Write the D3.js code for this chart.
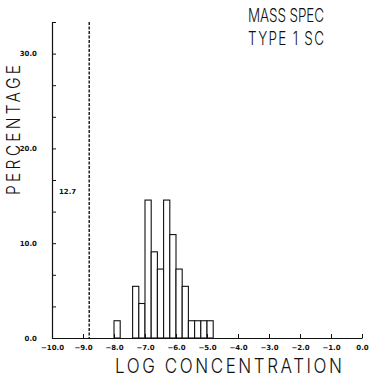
<!DOCTYPE html>
<html>
<head>
<meta charset="utf-8">
<script src="https://cdn.jsdelivr.net/npm/d3@7"></script>
<style>
  html, body { margin: 0; padding: 0; background: #fff; }
  svg { display: block; }
</style>
</head>
<body>
<svg id="chart" width="372" height="376"></svg>
<script>
// Histogram of log concentration, bins 0.2 wide (left edges)
const binStarts = [-8.0, -7.4, -7.2, -7.0, -6.8, -6.6, -6.4, -6.2, -6.0, -5.8, -5.6, -5.4, -5.2, -5.0];
const percents  = [1.82, 5.45, 3.64, 14.55, 9.09, 7.27, 14.55, 10.91, 7.27, 5.45, 1.82, 1.82, 1.82, 1.82];
const binWidth = 0.2;

// Fraction below detection limit, marked by the dashed line
const limitX = -8.8;
const limitLabel = "12.7";

const xTickValues = [-10, -9, -8, -7, -6, -5, -4, -3, -2, -1, 0];
const yLabelValues = [0, 10, 20, 30];
const titleLines = ["MASS SPEC", "TYPE 1 SC"];
const xTitle = "LOG CONCENTRATION";
const yTitle = "PERCENTAGE";

const svg = d3.select("#chart");
const x = d3.scaleLinear().domain([-10, 0]).range([52, 362]);
const y = d3.scaleLinear().domain([0, 100 / 3]).range([338, 22]);

const ink = "#111";
const tickFont = "DejaVu Sans";
const titleFont = "Inter, 'DejaVu Sans', sans-serif";

// Bars
svg.append("g").selectAll("rect").data(binStarts).join("rect")
  .attr("x", (d) => x(d))
  .attr("y", (d, i) => y(percents[i]))
  .attr("width", (d) => x(d + binWidth) - x(d))
  .attr("height", (d, i) => y(0) - y(percents[i]))
  .attr("fill", "#fff")
  .attr("stroke", ink)
  .attr("stroke-width", 1.1);

// X axis (ticks point inward)
const xAxis = d3.axisBottom(x).tickValues(xTickValues).tickSizeInner(-4).tickSizeOuter(0)
  .tickFormat(d3.format(".1f")).tickPadding(7);
const gx = svg.append("g").attr("transform", `translate(0,${y(0)})`).call(xAxis);
gx.select(".domain").attr("stroke", ink).attr("stroke-width", 1.2);
gx.selectAll(".tick line").attr("stroke", ink).attr("stroke-width", 1);
gx.selectAll(".tick text")
  .attr("font-family", tickFont).attr("font-weight", "bold")
  .attr("font-size", 7).attr("fill", ink)
  .text((d) => (d === 0 ? "0.0" : d3.format(".1f")(d)));

// Y axis, minor ticks every 10/3, labels at 10s
const yTicks = d3.range(0, 11).map((i) => (i * 10) / 3);
const yAxis = d3.axisLeft(y).tickValues(yTicks).tickSizeInner(-4).tickSizeOuter(0)
  .tickPadding(15)
  .tickFormat((d) => {
    const r = Math.round(d);
    return Math.abs(d - r) < 1e-6 && yLabelValues.includes(r) ? d3.format(".1f")(r) : "";
  });
const gy = svg.append("g").attr("transform", `translate(${x(-10)},0)`).call(yAxis);
gy.select(".domain").attr("stroke", ink).attr("stroke-width", 1.2);
gy.selectAll(".tick line").attr("stroke", ink).attr("stroke-width", 1);
gy.selectAll(".tick text")
  .attr("font-family", tickFont).attr("font-weight", "bold")
  .attr("font-size", 7).attr("fill", ink);

// Detection-limit dashed line and its label
svg.append("line")
  .attr("x1", x(limitX)).attr("x2", x(limitX))
  .attr("y1", y(100 / 3)).attr("y2", y(0))
  .attr("stroke", ink).attr("stroke-width", 1.4)
  .attr("stroke-dasharray", "3,1.5");
svg.append("text")
  .attr("x", x(limitX) - 13).attr("y", 194)
  .attr("text-anchor", "end")
  .attr("font-family", tickFont).attr("font-weight", "bold")
  .attr("font-size", 7).attr("fill", ink)
  .text(limitLabel);

// Thin, narrow, widely spaced lettering: glyphs squeezed horizontally,
// the run spread out to a given length.
function plotterText(parent, str, tx, ty, rotate, size, len, squeeze) {
  parent.append("g")
    .attr("transform", `translate(${tx},${ty}) rotate(${rotate}) scale(${squeeze},1)`)
    .append("text")
    .attr("x", 0).attr("y", 0)
    .attr("font-family", titleFont).attr("font-weight", 300)
    .attr("font-size", size).attr("fill", ink)
    .attr("textLength", len / squeeze).attr("lengthAdjust", "spacing")
    .text(str);
}

titleLines.forEach((t, i) => plotterText(svg, t, 248, 22 + i * 23, 0, 18, 76, 0.75));
plotterText(svg, xTitle, 115, 373, 0, 20, 227, 0.85);
plotterText(svg, yTitle, 20, 195, -90, 19, 130, 0.82);
</script>
</body>
</html>
